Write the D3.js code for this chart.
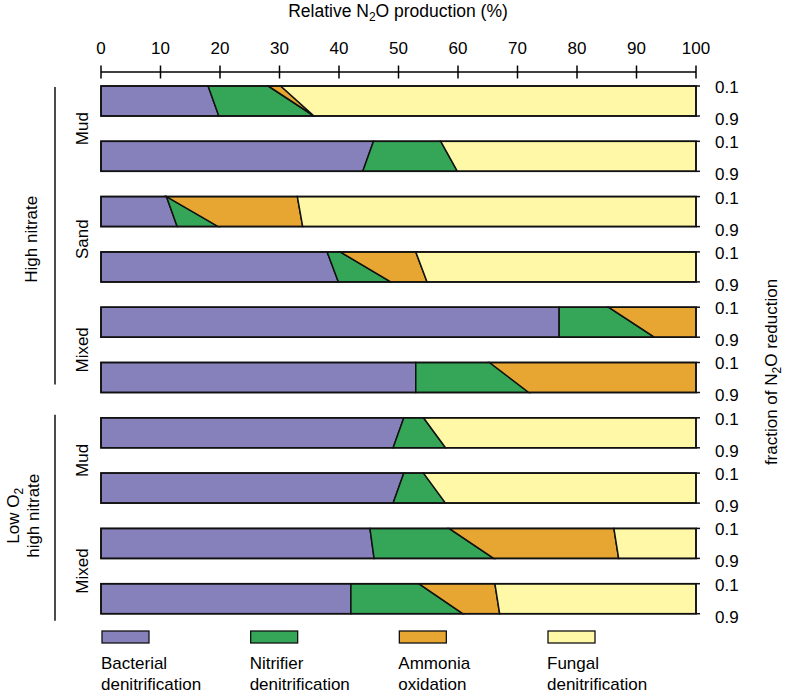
<!DOCTYPE html>
<html><head><meta charset="utf-8">
<script src="https://cdn.jsdelivr.net/npm/d3@7"></script>
<style>body{margin:0;background:#fff}svg{display:block;font-family:"Liberation Sans",Arial,Helvetica,sans-serif}</style>
</head><body><svg id="c" width="786" height="693"></svg>
<script>
// ---- data ----
const rows = ["HN Mud a","HN Mud b","HN Sand a","HN Sand b","HN Mixed a","HN Mixed b","LO Mud a","LO Mud b","LO Mixed a","LO Mixed b"];
const seriesNames = ["Bacterial denitrification","Nitrifier denitrification","Ammonia oxidation","Fungal denitrification"];
// values at fraction of N2O reduction = 0.1 (top edge) and 0.9 (bottom edge)
const bacterialTop     = [18.0,45.8,11.0,38.0,77.0,52.9,50.9,50.9,45.2,42.0];
const bacterialBottom  = [19.8,44.0,12.8,39.9,77.0,52.9,49.1,49.1,45.9,42.0];
const nitrifierTop     = [10.1,11.3, 0.0, 2.2, 8.3,12.4, 3.3, 3.3,13.3,11.4];
const nitrifierBottom  = [16.0,15.9, 6.9, 8.8,16.0,19.0, 8.8, 8.8,20.1,18.8];
const ammoniaTop       = [ 2.1, 0.0,22.0,12.7,14.7,34.7, 0.0, 0.0,27.7,12.8];
const ammoniaBottom    = [ 0.0, 0.0,14.2, 6.1, 7.0,28.1, 0.0, 0.0,21.0, 6.2];
const fungalTop        = [69.8,42.9,67.0,47.1, 0.0, 0.0,45.8,45.8,13.8,33.8];
const fungalBottom     = [64.2,40.1,66.1,45.2, 0.0, 0.0,42.1,42.1,13.0,33.0];
const fractions = [0.1, 0.9];
const xTicks = [0,10,20,30,40,50,60,70,80,90,100];
const subgroups = [{label:"Mud",rows:[0,1]},{label:"Sand",rows:[2,3]},{label:"Mixed",rows:[4,5]},{label:"Mud",rows:[6,7]},{label:"Mixed",rows:[8,9]}];
const groups = [{lines:["High nitrate"],rows:[0,5]},{lines:["Low O","high nitrate"],rows:[6,9]}];
const colors = ["#8681bb","#35a657","#e7a532","#fff8a7"];

// ---- build stacks ----
const keys = ["b","n","a","f"];
const topData = rows.map((r,i)=>({b:bacterialTop[i],n:nitrifierTop[i],a:ammoniaTop[i],f:fungalTop[i]}));
const botData = rows.map((r,i)=>({b:bacterialBottom[i],n:nitrifierBottom[i],a:ammoniaBottom[i],f:fungalBottom[i]}));
const stack = d3.stack().keys(keys);
const sTop = stack(topData), sBot = stack(botData);

const FS = 17;
const svg = d3.select("#c");
const x = d3.scaleLinear().domain([0,100]).range([101,696]);
const y = d3.scaleBand().domain(rows).range([86, 86+9*55.3+30]).paddingInner(1-30/55.3).paddingOuter(0);
const bw = y.bandwidth();

// ---- title ----
const t = svg.append("text").attr("x",398).attr("y",17).attr("text-anchor","middle").attr("font-size",FS+0.5);
t.append("tspan").text("Relative N");
t.append("tspan").text("2").attr("font-size",12).attr("dy",4);
t.append("tspan").text("O production (%)").attr("dy",-4);

// ---- top axis ----
const axY = 72;
svg.append("line").attr("x1",x(0)).attr("x2",x(100)).attr("y1",axY).attr("y2",axY).attr("stroke","#000").attr("stroke-width",1.5);
svg.selectAll(".tk").data(xTicks).join("line").attr("x1",d=>x(d)).attr("x2",d=>x(d)).attr("y1",axY-6.5).attr("y2",axY+6.5).attr("stroke","#000").attr("stroke-width",1.5);
svg.selectAll(".tl").data(xTicks).join("text").attr("x",d=>x(d)).attr("y",54).attr("text-anchor","middle").attr("font-size",FS).text(d=>d);

// ---- bars ----
rows.forEach((r,i)=>{
  const y0 = y(r), y1 = y(r)+bw;
  const g = svg.append("g");
  keys.forEach((k,si)=>{
    const a0 = sTop[si][i][0], a1 = sTop[si][i][1];
    const b0 = sBot[si][i][0], b1 = sBot[si][i][1];
    if (a1-a0<=0 && b1-b0<=0) return;
    g.append("path")
      .attr("d", d3.line()([[x(a0),y0],[x(a1),y0],[x(b1),y1],[x(b0),y1]]) + "Z")
      .attr("fill",colors[si]).attr("stroke","#111").attr("stroke-width",1.5).attr("stroke-linejoin","miter");
  });
  g.append("rect").attr("x",x(0)).attr("y",y0).attr("width",x(100)-x(0)).attr("height",bw)
    .attr("fill","none").attr("stroke","#111").attr("stroke-width",1.6);
  [y0,y1].forEach(yy=>svg.append("line").attr("x1",x(100)).attr("x2",x(100)+4).attr("y1",yy).attr("y2",yy).attr("stroke","#111").attr("stroke-width",1.5));
  const fy = d3.scaleLinear().domain([0.1,0.9]).range([y0+1,y1+3]);
  fractions.forEach(f=>svg.append("text").attr("x",715).attr("y",fy(f)).attr("dy","0.35em").attr("font-size",FS).text(f.toFixed(1)));
});

// ---- right label ----
const rl = svg.append("text").attr("transform","translate(777,372) rotate(-90)").attr("text-anchor","middle").attr("font-size",FS);
rl.append("tspan").text("fraction of N");
rl.append("tspan").text("2").attr("font-size",12).attr("dy",4);
rl.append("tspan").text("O reduction").attr("dy",-4);

// ---- left labels ----
subgroups.forEach(sg=>{
  const cy = (y(rows[sg.rows[0]]) + y(rows[sg.rows[1]])+bw)/2;
  svg.append("text").attr("transform",`translate(82,${cy}) rotate(-90)`).attr("text-anchor","middle").attr("dy","0.35em").attr("font-size",FS).text(sg.label);
});
const lineExt = [[1,-8],[-3,7]];
groups.forEach((gr,gi)=>{
  const top = y(rows[gr.rows[0]]), bot = y(rows[gr.rows[1]])+bw;
  svg.append("line").attr("x1",55).attr("x2",55).attr("y1",top+lineExt[gi][0]).attr("y2",bot+lineExt[gi][1]).attr("stroke","#111").attr("stroke-width",1.5);
  const cy = (top+bot)/2;
  if (gr.lines.length===1){
    svg.append("text").attr("transform",`translate(31,${cy}) rotate(-90)`).attr("text-anchor","middle").attr("dy","0.35em").attr("font-size",FS).text(gr.lines[0]);
  } else {
    const t1 = svg.append("text").attr("transform",`translate(13,${cy}) rotate(-90)`).attr("text-anchor","middle").attr("dy","0.35em").attr("font-size",FS);
    t1.append("tspan").text("Low O");
    t1.append("tspan").text("2").attr("font-size",12).attr("dy",4);
    svg.append("text").attr("transform",`translate(33,${cy}) rotate(-90)`).attr("text-anchor","middle").attr("dy","0.35em").attr("font-size",FS).text(gr.lines[1]);
  }
});

// ---- legend ----
const lx = d3.scalePoint().domain(seriesNames).range([102,548]);
seriesNames.forEach((s,i)=>{
  const gx = lx(s);
  svg.append("rect").attr("x",gx).attr("y",631).attr("width",47).attr("height",12).attr("fill",colors[i]).attr("stroke","#111").attr("stroke-width",1.3);
  const words = s.split(" ");
  svg.append("text").attr("x",gx-1).attr("y",669).attr("font-size",FS).text(words[0]);
  svg.append("text").attr("x",gx-1).attr("y",690).attr("font-size",FS).text(words[1]);
});
</script></body></html>
